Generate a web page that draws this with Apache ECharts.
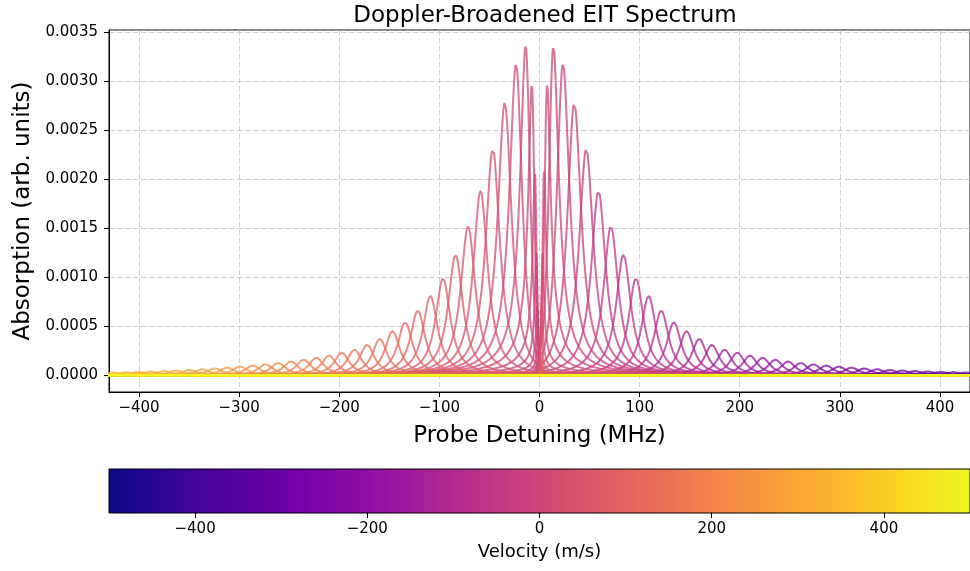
<!DOCTYPE html>
<html><head><meta charset="utf-8">
<script src="https://cdn.jsdelivr.net/npm/echarts@6/dist/echarts.min.js"></script>
<style>html,body{margin:0;padding:0;background:#fff}#c{width:970px;height:571px}</style>
</head><body><div id="c"></div>
<script>
// Velocity classes (m/s), as shown on the colorbar
const velocities = [
 -500.00,-489.90,-479.80,-469.70,-459.60,-449.49,-439.39,-429.29,-419.19,-409.09,
 -398.99,-388.89,-378.79,-368.69,-358.59,-348.48,-338.38,-328.28,-318.18,-308.08,
 -297.98,-287.88,-277.78,-267.68,-257.58,-247.47,-237.37,-227.27,-217.17,-207.07,
 -196.97,-186.87,-176.77,-166.67,-156.57,-146.46,-136.36,-126.26,-116.16,-106.06,
 -95.96,-85.86,-75.76,-65.66,-55.56,-45.45,-35.35,-25.25,-15.15,-5.05,
 5.05,15.15,25.25,35.35,45.45,55.56,65.66,75.76,85.86,95.96,
 106.06,116.16,126.26,136.36,146.46,156.57,166.67,176.77,186.87,196.97,
 207.07,217.17,227.27,237.37,247.47,257.58,267.68,277.78,287.88,297.98,
 308.08,318.18,328.28,338.38,348.48,358.59,368.69,378.79,388.89,398.99,
 409.09,419.19,429.29,439.39,449.49,459.60,469.70,479.80,489.90,500.00
];
// Peak absorption of each velocity class (arb. units)
const peakHeights = [
 0.0000031,0.0000036,0.0000042,0.0000048,0.0000055,0.0000063,0.0000072,0.0000083,0.0000095,0.000011,
 0.000012,0.000014,0.000016,0.000018,0.000020,0.000023,0.000026,0.000029,0.000033,0.000037,
 0.000042,0.000047,0.000053,0.000060,0.000068,0.000077,0.000087,0.000098,0.000110,0.000124,
 0.000140,0.000158,0.000178,0.00020,0.00023,0.00026,0.00031,0.00037,0.00045,0.00054,
 0.00066,0.00081,0.00099,0.00123,0.00152,0.00188,0.00231,0.00278,0.00318,0.00336,
 0.00336,0.00318,0.00278,0.00231,0.00188,0.00152,0.00123,0.00099,0.00081,0.00066,
 0.00054,0.00045,0.00037,0.00031,0.00026,0.00023,0.00020,0.000178,0.000158,0.000140,
 0.000124,0.000110,0.000098,0.000087,0.000077,0.000068,0.000060,0.000053,0.000047,0.000042,
 0.000037,0.000033,0.000029,0.000026,0.000023,0.000020,0.000018,0.000016,0.000014,0.000012,
 0.000011,0.0000095,0.0000083,0.0000072,0.0000063,0.0000055,0.0000048,0.0000042,0.0000036,0.0000031
];
const colorbarTicks = [-400, -200, 0, 200, 400];

// Line-shape parameters (MHz)
const MHZ_PER_MS = 1.2583;
const GAMMA = 9.0, GAMMA_G = 1.0, OMEGA_C = 20.2;
const KC = OMEGA_C * OMEGA_C / 4;

function lineShape(d, v) {
  const D = d + MHZ_PER_MS * v;
  const den2 = GAMMA_G * GAMMA_G + d * d;
  const re = GAMMA + KC * GAMMA_G / den2;
  const im = -D + KC * d / den2;
  return re / (re * re + im * im);
}

const plasma = ['#0d0887','#41049d','#6a00a8','#8f0da4','#b12a90','#cc4778','#e16462','#f2844b','#fca636','#fcce25','#f0f921'];
function hex2rgb(h){return [parseInt(h.slice(1,3),16),parseInt(h.slice(3,5),16),parseInt(h.slice(5,7),16)];}
function plasmaColor(t){
  t = Math.max(0, Math.min(1, t));
  const p = t * 10, i = Math.min(9, Math.floor(p)), f = p - i;
  const a = hex2rgb(plasma[i]), b = hex2rgb(plasma[i+1]);
  return 'rgb(' + a.map((x,j)=>Math.round(x + (b[j]-x)*f)).join(',') + ')';
}

const xs = [];
for (let i = 0; i < 834; i++) xs.push(-432 + i * 0.5);
for (let i = 0; i < 600; i++) xs.push(-15 + i * 0.05);
for (let i = 0; i <= 834; i++) xs.push(15 + i * 0.5);

const series = velocities.map((v, i) => {
  const c = -MHZ_PER_MS * v;
  const s = c < 0 ? -1 : 1;
  const dMain = (c + s * Math.sqrt(c * c + OMEGA_C * OMEGA_C)) / 2;
  let amax = 0;
  for (let d = dMain - 8; d <= dMain + 8; d += 0.01) amax = Math.max(amax, lineShape(d, v));
  const h = peakHeights[i];
  return {
    type: 'line', xAxisIndex: 0, yAxisIndex: 0, silent: true,
    symbol: 'none', showSymbol: false, animation: false,
    data: xs.map(x => [x, h * lineShape(x, v) / amax]),
    lineStyle: { color: plasmaColor((v + 500) / 1000), width: 2, opacity: 0.75 },
    z: 2
  };
});

series.push({
  type: 'custom', xAxisIndex: 1, yAxisIndex: 1, silent: true, animation: false,
  data: [[-500, 500]],
  renderItem: function (params, api) {
    const p0 = api.coord([api.value(0), 1]);
    const p1 = api.coord([api.value(1), 0]);
    return {
      type: 'rect',
      shape: { x: p0[0], y: p0[1], width: p1[0] - p0[0], height: p1[1] - p0[1] },
      style: {
        fill: new echarts.graphic.LinearGradient(0, 0, 1, 0,
          plasma.map((c, k) => ({ offset: k / 10, color: c }))),
        stroke: '#000', lineWidth: 1
      }
    };
  }
});

const FONT = 'DejaVu Sans';
const minus = v => (v < 0 ? '\u2212' + Math.abs(v) : String(v));
const chart = echarts.init(document.getElementById('c'), null, { renderer: 'canvas' });
chart.setOption({
  animation: false,
  backgroundColor: '#fff',
  title: {
    text: 'Doppler-Broadened EIT Spectrum', left: 540, top: 0, textAlign: 'center',
    textStyle: { fontFamily: FONT, fontSize: 23, fontWeight: 'normal', color: '#000' }
  },
  grid: [
    { left: 109, top: 30, width: 863, height: 362, show: true, borderColor: '#000', borderWidth: 1, backgroundColor: 'transparent' },
    { left: 109, top: 469, width: 863, height: 44 }
  ],
  xAxis: [
    {
      gridIndex: 0, type: 'value', min: -430, max: 430, splitNumber: 8,
      name: 'Probe Detuning (MHz)', nameLocation: 'middle', nameGap: 33,
      nameTextStyle: { fontFamily: FONT, fontSize: 23, color: '#000' },
      axisLine: { show: true, onZero: false, lineStyle: { color: '#000', width: 1 } },
      axisTick: { show: true, length: 5, lineStyle: { color: '#000', width: 1 } },
      axisLabel: { fontFamily: FONT, fontSize: 15, color: '#000', margin: 9, formatter: minus, showMinLabel: false, showMaxLabel: false },
      splitLine: { show: true, lineStyle: { color: 'rgba(176,176,176,0.6)', type: [5, 3], width: 1 } }
    },
    {
      gridIndex: 1, type: 'value', min: -500, max: 500, splitNumber: 5,
      name: 'Velocity (m/s)', nameLocation: 'middle', nameGap: 30,
      nameTextStyle: { fontFamily: FONT, fontSize: 18, color: '#000' },
      axisLine: { show: false },
      axisTick: { show: true, length: 5, lineStyle: { color: '#000', width: 1 } },
      axisLabel: { fontFamily: FONT, fontSize: 15, color: '#000', margin: 9, formatter: minus, showMinLabel: false, showMaxLabel: false },
      splitLine: { show: false }
    }
  ],
  yAxis: [
    {
      gridIndex: 0, type: 'value', min: -0.000172, max: 0.003523, splitNumber: 7,
      name: 'Absorption (arb. units)', nameLocation: 'middle', nameGap: 74,
      nameTextStyle: { fontFamily: FONT, fontSize: 23, color: '#000' },
      axisLine: { show: true, onZero: false, lineStyle: { color: '#000', width: 1 } },
      axisTick: { show: true, length: 5, lineStyle: { color: '#000', width: 1 } },
      axisLabel: { fontFamily: FONT, fontSize: 15, color: '#000', margin: 11, formatter: v => v.toFixed(4), showMinLabel: false, showMaxLabel: false },
      splitLine: { show: true, lineStyle: { color: 'rgba(176,176,176,0.6)', type: [5, 3], width: 1 } }
    },
    { gridIndex: 1, type: 'value', min: 0, max: 1, show: false }
  ],
  series: series
});
</script>
</body></html>
